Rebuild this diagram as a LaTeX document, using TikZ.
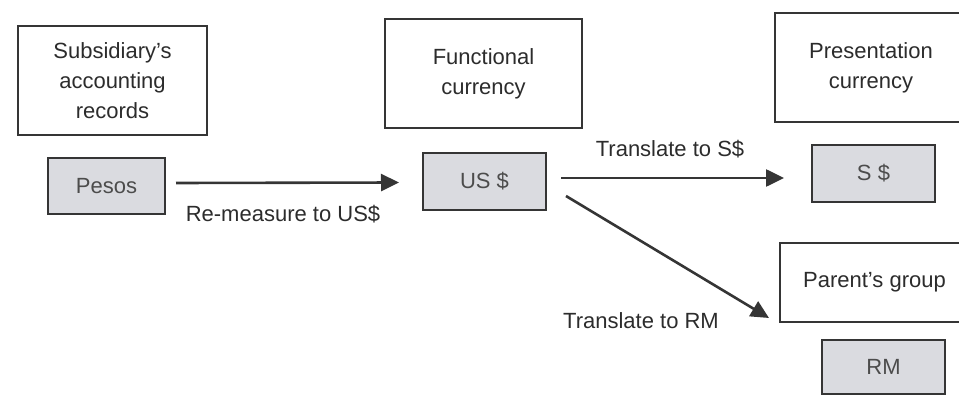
\documentclass[tikz,border=0pt]{standalone}
\usepackage{fontspec}
\setmainfont{Liberation Sans}
\usetikzlibrary{arrows.meta}

\definecolor{ink}{HTML}{353535}
\definecolor{txt}{HTML}{2C2C2C}
\definecolor{cellfill}{HTML}{DADBE0}

\tikzset{
  headbox/.style={draw=ink, line width=2pt, fill=white, text=txt,
    align=center, inner sep=0pt,
    font=\fontsize{22}{30}\selectfont},
  valbox/.style={draw=ink, line width=2pt, fill=cellfill, text=txt!85,
    inner sep=0pt, font=\fontsize{22}{26}\selectfont},
  flow/.style={draw=ink, line width=2.6pt,
    -{Triangle[length=18pt, width=17pt]}},
  lbl/.style={text=txt, inner sep=0pt, font=\fontsize{22}{26}\selectfont}
}

\begin{document}
\begin{tikzpicture}[x=1pt, y=-1pt]
  \useasboundingbox (0,0) rectangle (959,396);
  \clip (0,0) rectangle (959,396);

  % column headings
  \node[headbox, minimum width=189pt, minimum height=108pt] (sub) at (112.5,80.5)
    {Subsidiary’s\\accounting\\records};
  \node[headbox, minimum width=197pt, minimum height=109pt] (func) at (483.5,73.5)
    {Functional\\currency};
  \node[headbox, minimum width=192pt, minimum height=109pt] (pres) at (871,67.5)
    {Presentation\\currency};
  \node[headbox, minimum width=189pt, minimum height=79pt] (parent) at (874.5,282.5)
    {Parent’s group};

  % currency cells
  \node[valbox, minimum width=117pt, minimum height=56pt] (pesos) at (106.5,186) {Pesos\hspace{16pt}};
  \node[valbox, minimum width=123pt, minimum height=57pt] (usd) at (484.5,181.5) {US \$};
  \node[valbox, minimum width=123pt, minimum height=57pt] (sgd) at (873.5,173.5) {S \$};
  \node[valbox, minimum width=123pt, minimum height=54pt] (rm) at (883.5,367) {RM};

  % conversions
  \draw[flow] ([xshift=10pt, yshift=3pt]pesos.east) -- ([xshift=-23pt, yshift=-1pt]usd.west);
  \draw[flow] ([xshift=14pt, yshift=3.5pt]usd.east) -- ([xshift=-27pt, yshift=-4.5pt]sgd.west);
  \draw[flow] ([xshift=19pt, yshift=15pt]usd.south east) -- ([xshift=-10pt, yshift=5pt]parent.south west);

  % conversion labels
  \node[lbl] (remeasure) at (283,214) {Re-measure to US\$};
  \node[lbl] (toSGD) at (670,149) {Translate to S\$};
  \node[lbl] (toRM) at (641,321) {Translate to RM};
\end{tikzpicture}
\end{document}
